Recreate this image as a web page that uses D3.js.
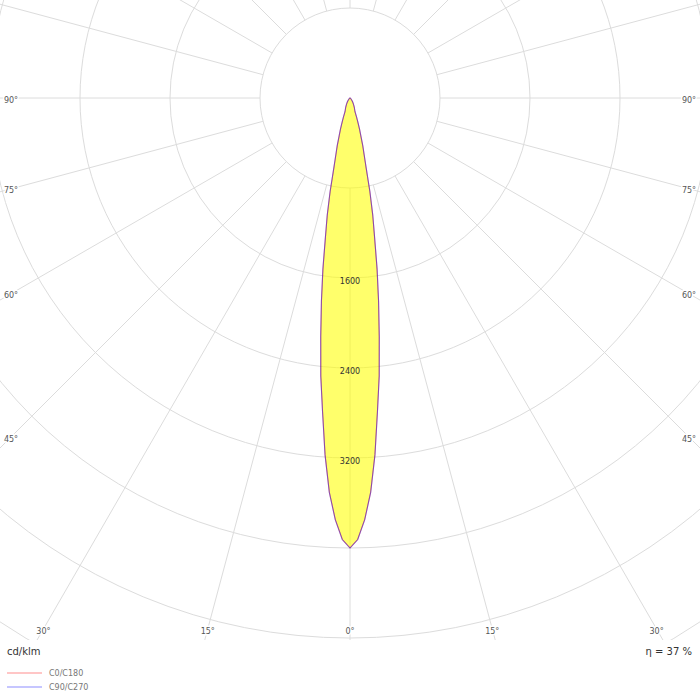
<!DOCTYPE html>
<html>
<head>
<meta charset="utf-8">
<script src="https://cdn.jsdelivr.net/npm/d3@7"></script>
<style>
	html, body { margin: 0; padding: 0; background: #fff; }
	svg { display: block; font-family: "DejaVu Sans", Verdana, sans-serif; }
</style>
</head>
<body>
<svg id="ldc" width="700" height="700"></svg>
<script>
// Polar light distribution curve (cd/klm), 0° pointing down
const angles = [0, 1, 2, 3, 4, 5, 6, 7, 8, 9, 10, 11, 12, 13, 14, 15, 16, 17, 18, 19, 20, 25, 30, 35, 40, 45, 50, 60, 70, 80, 90];
const c0c180 = [4000, 3925, 3750, 3510, 3180, 2800, 2485, 2135, 1825, 1540, 1260, 1060, 850, 640, 520, 440, 350, 290, 230, 180, 130, 90, 60, 40, 25, 15, 10, 5, 2, 0, 0];
const c90c270 = [4000, 3925, 3750, 3510, 3180, 2800, 2485, 2135, 1825, 1540, 1260, 1060, 850, 640, 520, 440, 350, 290, 230, 180, 130, 90, 60, 40, 25, 15, 10, 5, 2, 0, 0];
const ringValues = [800, 1600, 2400, 3200, 4000, 4800, 5600, 6400, 7200];
const ringLabels = [1600, 2400, 3200];
const angleTicks = [0, 15, 30, 45, 60, 75, 90];
const legendLabels = ['C0/C180', 'C90/C270'];
const unitLabel = 'cd/klm';
const efficiencyLabel = 'η = 37 %';

(function () {
	const svg = d3.select('#ldc');
	const cx = 350, cy = 98;
	const clipBottom = 640;
	const r = d3.scaleLinear().domain([0, 800]).range([0, 90]);
	const rad = d => d * Math.PI / 180;
	const grid = '#dcdcdc';

	svg.append('defs').append('clipPath').attr('id', 'plot-clip')
		.append('rect').attr('x', 0).attr('y', 0).attr('width', 700).attr('height', clipBottom);

	const g = svg.append('g').attr('clip-path', 'url(#plot-clip)');
	const plot = g.append('g').attr('transform', 'translate(' + cx + ',' + cy + ')');

	// Rings
	plot.selectAll('circle.ring').data(ringValues).join('circle')
		.attr('class', 'ring')
		.attr('r', v => r(v))
		.attr('fill', 'none').attr('stroke', grid).attr('stroke-width', 1);

	// Spokes every 15°, starting at the inner ring
	const spokes = d3.range(0, 360, 15);
	plot.selectAll('line.spoke').data(spokes).join('line')
		.attr('class', 'spoke')
		.attr('x1', a => r(ringValues[0]) * Math.sin(rad(a)))
		.attr('y1', a => r(ringValues[0]) * Math.cos(rad(a)))
		.attr('x2', a => 1000 * Math.sin(rad(a)))
		.attr('y2', a => 1000 * Math.cos(rad(a)))
		.attr('stroke', grid).attr('stroke-width', 1);

	// Curves: right half uses C0 / C90, left half the mirrored C180 / C270
	const halfPoints = vals => {
		const right = angles.map((a, i) => [a, vals[i]]);
		const left = angles.slice().reverse().map((a, i) => [-a, vals[vals.length - 1 - i]]);
		return left.concat(right.slice(1));
	};
	const radial = d3.lineRadial()
		.angle(d => Math.PI - rad(d[0]))
		.radius(d => r(d[1]))
		.curve(d3.curveLinearClosed);

	plot.append('path').attr('d', radial(halfPoints(c0c180)))
		.attr('fill', '#ffff00').attr('fill-opacity', 0.58).attr('stroke', 'none');
	plot.append('path').attr('d', radial(halfPoints(c0c180)))
		.attr('fill', 'none').attr('stroke', '#ff0000').attr('stroke-opacity', 0.45).attr('stroke-width', 1.1);
	plot.append('path').attr('d', radial(halfPoints(c90c270)))
		.attr('fill', 'none').attr('stroke', '#0000ff').attr('stroke-opacity', 0.45).attr('stroke-width', 1.1);

	// Ring value labels along 0°
	plot.selectAll('text.ring-label').data(ringLabels).join('text')
		.attr('class', 'ring-label')
		.attr('x', 0).attr('y', v => r(v) + 3)
		.attr('text-anchor', 'middle').attr('dominant-baseline', 'central')
		.attr('font-size', 8).attr('fill', '#333')
		.text(v => v);

	// Angle labels on the frame
	const halfW = 339, bottomH = 531;
	const tickData = [];
	angleTicks.forEach(a => {
		tickData.push(a);
		if (a !== 0) tickData.push(-a);
	});
	const labelPos = a => {
		const s = Math.sin(rad(a)), c = Math.cos(rad(a));
		const t = Math.min(Math.abs(s) > 1e-9 ? halfW / Math.abs(s) : Infinity, c > 1e-9 ? bottomH / c : Infinity);
		return [cx + t * s, cy + t * c];
	};
	svg.selectAll('text.angle').data(tickData).join('text')
		.attr('class', 'angle')
		.attr('x', a => labelPos(a)[0]).attr('y', a => labelPos(a)[1] + 2)
		.attr('text-anchor', 'middle').attr('dominant-baseline', 'central')
		.attr('font-size', 8).attr('fill', '#555')
		.attr('stroke', '#fff').attr('stroke-width', 3).attr('paint-order', 'stroke')
		.text(a => Math.abs(a) + '°');

	// Footer texts
	svg.append('text').attr('x', 7).attr('y', 655)
		.attr('font-size', 10).attr('fill', '#333').text(unitLabel);
	svg.append('text').attr('x', 692).attr('y', 655).attr('text-anchor', 'end')
		.attr('font-size', 10).attr('fill', '#333').text(efficiencyLabel);

	// Legend
	const legendColors = ['#ff0000', '#0000ff'];
	legendLabels.forEach((label, i) => {
		const y = 673 + i * 14;
		svg.append('line').attr('x1', 7).attr('x2', 42).attr('y1', y).attr('y2', y)
			.attr('stroke', legendColors[i]).attr('stroke-opacity', 0.3).attr('stroke-width', 1.5);
		svg.append('text').attr('x', 49).attr('y', y + 3)
			.attr('font-size', 8).attr('fill', '#777').text(label);
	});
})();
</script>
</body>
</html>
